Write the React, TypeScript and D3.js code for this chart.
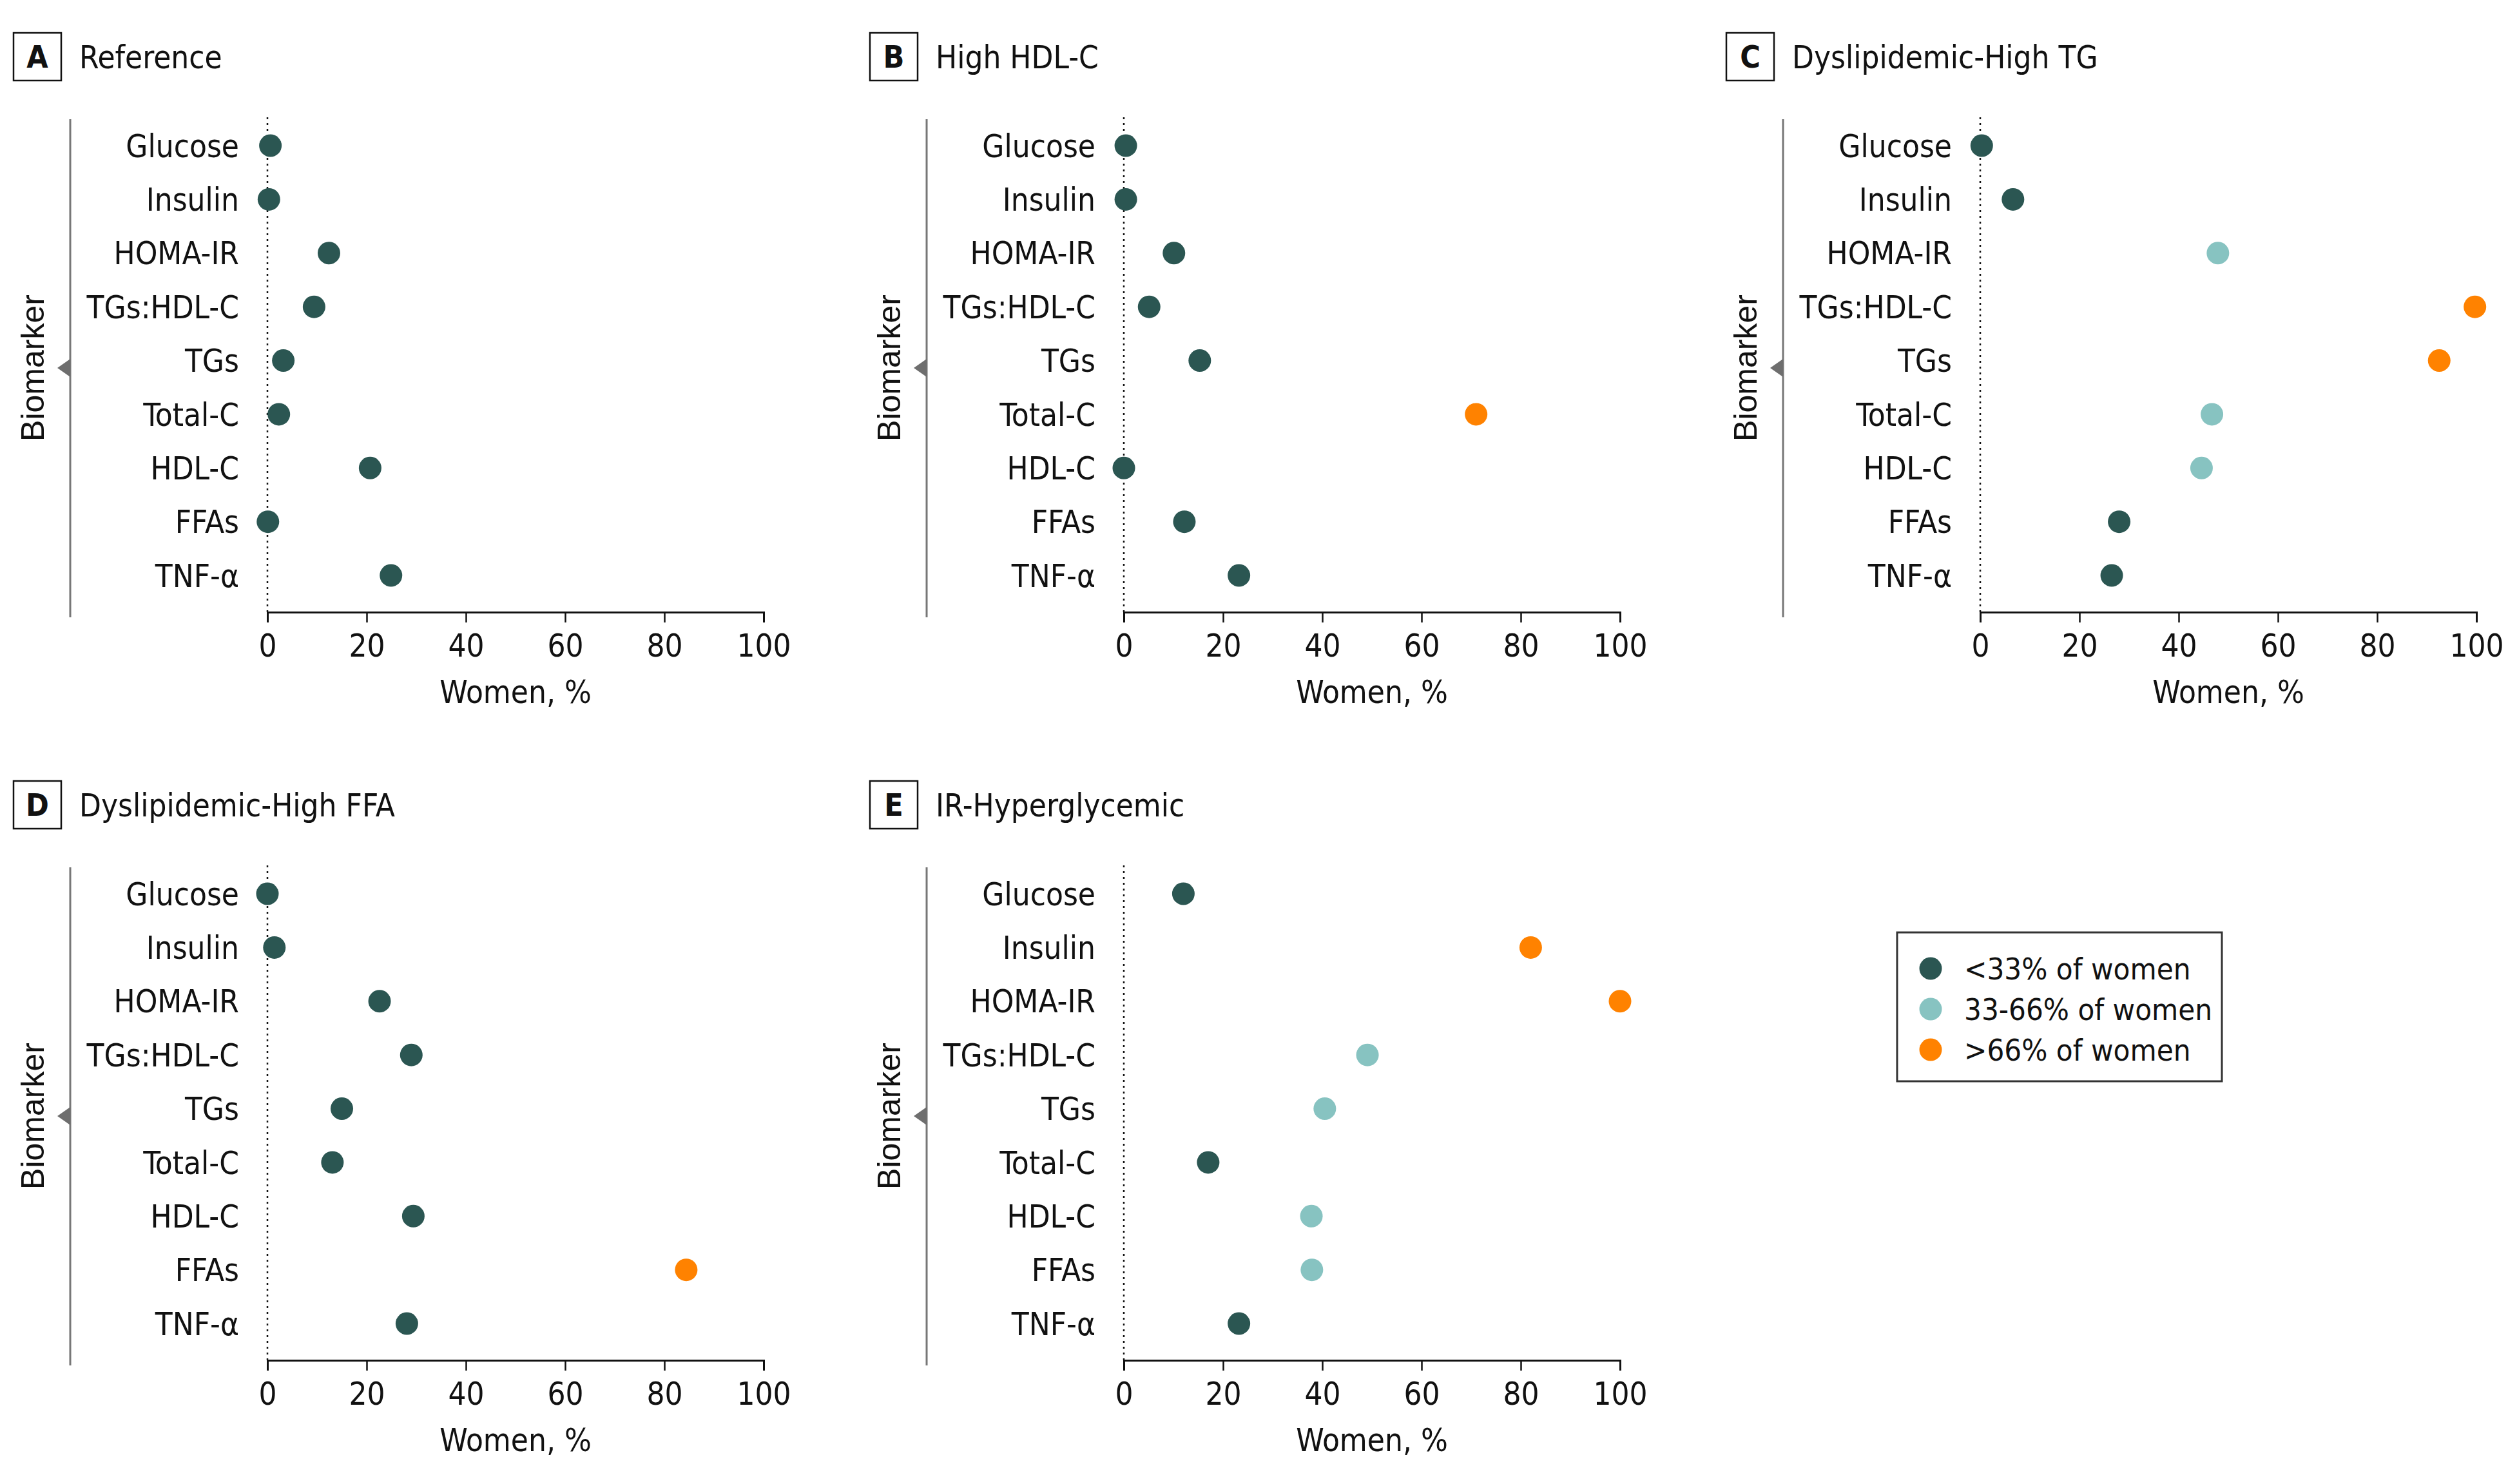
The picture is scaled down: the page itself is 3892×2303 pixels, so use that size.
import { useEffect, useRef } from 'react';
import * as d3 from 'd3';

// ── Data ─────────────────────────────────────────────────────────────────────
const BIOMARKERS = ['Glucose', 'Insulin', 'HOMA-IR', 'TGs:HDL-C', 'TGs', 'Total-C', 'HDL-C', 'FFAs', 'TNF-α'];
const PANEL_LETTERS = ['A', 'B', 'C', 'D', 'E'];
const PANEL_TITLES = ['Reference', 'High HDL-C', 'Dyslipidemic-High TG', 'Dyslipidemic-High FFA', 'IR-Hyperglycemic'];

// women, % per biomarker (same order as BIOMARKERS)
const REFERENCE = [0.6, 0.3, 12.4, 9.4, 3.2, 2.3, 20.7, 0.1, 24.9];
const HIGH_HDL = [0.4, 0.4, 10.1, 5.1, 15.3, 71.0, 0, 12.2, 23.2];
const DYS_HIGH_TG = [0.3, 6.6, 47.9, 99.7, 92.5, 46.7, 44.6, 28.0, 26.5];
const DYS_HIGH_FFA = [0, 1.4, 22.6, 29.0, 15.0, 13.1, 29.4, 84.4, 28.1];
const IR_HYPER = [12.0, 82.0, 100, 49.1, 40.5, 17.0, 37.8, 37.9, 23.2];
const PANEL_VALUES = [REFERENCE, HIGH_HDL, DYS_HIGH_TG, DYS_HIGH_FFA, IR_HYPER];

const X_TICKS = [0, 20, 40, 60, 80, 100];
const LEGEND_LABELS = ['<33% of women', '33-66% of women', '>66% of women'];
const COLORS = ['#2b5652', '#87c3c1', '#ff8200'];

const COLOR_SCALE = d3.scaleThreshold<number, string>().domain([33, 66]).range(COLORS);

const W = 3892, H = 2303;
const FONT = '"DejaVu Sans Condensed", "Liberation Sans Narrow", "Liberation Sans", sans-serif';
const FS = '49px';
const INK = '#111';

export default function App() {
  const svgRef = useRef<SVGSVGElement | null>(null);

  useEffect(() => {
    if (!svgRef.current) return;
    const svg = d3.select(svgRef.current);
    svg.selectAll('*').remove();

    svg.append('rect').attr('width', W).attr('height', H).attr('fill', '#fff');

    const x = d3.scaleLinear().domain([0, 100]).range([415, 1185]);
    const y = d3.scalePoint<string>().domain(BIOMARKERS).range([226, 893]);

    PANEL_VALUES.forEach((vals, i) => {
      const col = i % 3, row = Math.floor(i / 3);
      const g = svg.append('g').attr('transform', `translate(${col * 1329},${row * 1161})`);

      // panel letter + title
      g.append('rect').attr('x', 21).attr('y', 51).attr('width', 74).attr('height', 74)
        .attr('fill', 'none').attr('stroke', INK).attr('stroke-width', 2.5);
      g.append('text').attr('x', 58).attr('y', 88).attr('dy', '0.36em')
        .attr('text-anchor', 'middle').style('font-family', FONT).style('font-weight', 700)
        .style('font-size', '48px').style('fill', INK).text(PANEL_LETTERS[i]);
      g.append('text').attr('x', 123).attr('y', 88).attr('dy', '0.36em')
        .style('font-family', FONT).style('font-size', FS).style('fill', INK).text(PANEL_TITLES[i]);

      // y bracket + triangle + label
      g.append('line').attr('x1', 109).attr('x2', 109).attr('y1', 185).attr('y2', 958)
        .attr('stroke', '#777').attr('stroke-width', 3);
      g.append('path').attr('d', 'M109,557 L89,571 L109,585 Z').attr('fill', '#6e6e6e');
      g.append('text').attr('transform', 'translate(50,571) rotate(-90)').attr('dy', '0.36em')
        .attr('text-anchor', 'middle').style('font-family', '"Liberation Sans", sans-serif')
        .style('font-size', '50px').style('fill', INK).text('Biomarker');

      // zero reference line
      g.append('line').attr('x1', x(0)).attr('x2', x(0)).attr('y1', 182).attr('y2', 950)
        .attr('stroke', INK).attr('stroke-width', 2.5).attr('stroke-dasharray', '3,6');

      // x axis
      g.append('g').attr('transform', 'translate(0,950)')
        .call(d3.axisBottom(x).tickValues(X_TICKS).tickSize(16).tickPadding(18).tickFormat(d3.format('d')))
        .call(ax => ax.select('.domain').attr('stroke', INK).attr('stroke-width', 3))
        .call(ax => ax.selectAll('line').attr('stroke', INK).attr('stroke-width', 2.5))
        .call(ax => ax.selectAll('text').style('fill', INK).style('font-size', FS).style('font-family', FONT));
      g.append('text').attr('x', (x(0) + x(100)) / 2).attr('y', 1073).attr('dy', '0.36em')
        .attr('text-anchor', 'middle').style('font-family', FONT).style('font-size', FS)
        .style('fill', INK).text('Women, %');

      // category labels
      g.selectAll('text.cat').data(BIOMARKERS).enter().append('text')
        .attr('class', 'cat').attr('x', 371).attr('y', d => y(d)!).attr('dy', '0.36em')
        .attr('text-anchor', 'end').style('font-family', FONT).style('font-size', FS)
        .style('fill', INK).text(d => d);

      // dots
      g.selectAll('circle.dot').data(vals).enter().append('circle')
        .attr('class', 'dot')
        .attr('cx', d => x(d)).attr('cy', (_, j) => y(BIOMARKERS[j])!)
        .attr('r', 17.5).attr('fill', d => COLOR_SCALE(d));
    });

    // legend
    const lg = svg.append('g').attr('transform', 'translate(2944,1447)');
    lg.append('rect').attr('width', 504).attr('height', 231)
      .attr('fill', '#fff').attr('stroke', '#333').attr('stroke-width', 3);
    LEGEND_LABELS.forEach((lab, k) => {
      lg.append('circle').attr('cx', 52).attr('cy', 56 + k * 63).attr('r', 17.5).attr('fill', COLORS[k]);
      lg.append('text').attr('x', 104).attr('y', 56 + k * 63).attr('dy', '0.36em')
        .style('font-family', FONT).style('font-size', '47px').style('fill', INK).text(lab);
    });
  }, []);

  return (
    <svg ref={svgRef} width={W} height={H} viewBox={`0 0 ${W} ${H}`}
      style={{ position: 'absolute', left: 0, top: 0, display: 'block' }} />
  );
}
